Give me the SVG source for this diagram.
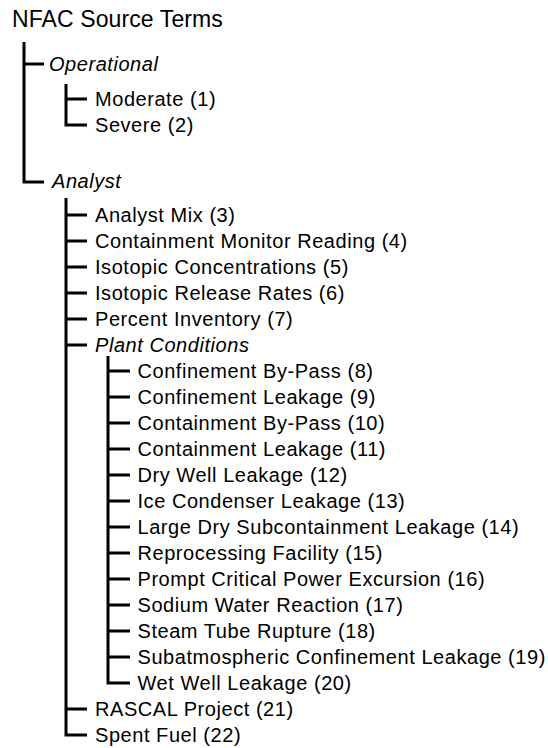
<svg xmlns="http://www.w3.org/2000/svg" width="548" height="748" viewBox="0 0 548 748">
<style>
text{font-family:"Liberation Sans",Arial,Helvetica,sans-serif;font-size:20px;letter-spacing:0.55px;fill:#000}
.root{font-size:23px;letter-spacing:0.1px}
.it{font-style:italic}
.c{fill:none;stroke:#000;stroke-width:3;stroke-linejoin:miter;stroke-linecap:butt}
</style>
<rect width="548" height="748" fill="#fff"/>
<g id="connectors" class="c">
<path d="M24 42V182H44M24 64H44"/>
<path d="M66 84V125H87M66 99H87"/>
<path d="M66 198V735H87M66 215H87M66 241H87M66 267H87M66 293H87M66 319H87M66 345H87M66 709H87"/>
<path d="M108 356V683H130M108 371H130M108 397H130M108 423H130M108 449H130M108 475H130M108 501H130M108 527H130M108 553H130M108 579H130M108 605H130M108 631H130M108 657H130"/>
</g>
<g id="n0"><text class="root" x="12" y="27">NFAC Source Terms</text></g>
<g id="op"><text class="it" x="49" y="71">Operational</text></g>
<g id="n1"><text x="95" y="106">Moderate (1)</text></g>
<g id="n2"><text x="95" y="132">Severe (2)</text></g>
<g id="an"><text class="it" x="52" y="188">Analyst</text></g>
<g id="n3"><text x="95" y="221.5">Analyst Mix (3)</text></g>
<g id="n4"><text x="95" y="247.5">Containment Monitor Reading (4)</text></g>
<g id="n5"><text x="95" y="273.5">Isotopic Concentrations (5)</text></g>
<g id="n6"><text x="95" y="299.5">Isotopic Release Rates (6)</text></g>
<g id="n7"><text x="95" y="325.5">Percent Inventory (7)</text></g>
<g id="pc"><text class="it" x="95" y="351.5">Plant Conditions</text></g>
<g id="n8"><text x="137.5" y="377.5">Confinement By-Pass (8)</text></g>
<g id="n9"><text x="137.5" y="403.5">Confinement Leakage (9)</text></g>
<g id="n10"><text x="137.5" y="429.5">Containment By-Pass (10)</text></g>
<g id="n11"><text x="137.5" y="455.5">Containment Leakage (11)</text></g>
<g id="n12"><text x="137.5" y="481.5">Dry Well Leakage (12)</text></g>
<g id="n13"><text x="137.5" y="507.5">Ice Condenser Leakage (13)</text></g>
<g id="n14"><text x="137.5" y="533.5">Large Dry Subcontainment Leakage (14)</text></g>
<g id="n15"><text x="137.5" y="559.5">Reprocessing Facility (15)</text></g>
<g id="n16"><text x="137.5" y="585.5">Prompt Critical Power Excursion (16)</text></g>
<g id="n17"><text x="137.5" y="611.5">Sodium Water Reaction (17)</text></g>
<g id="n18"><text x="137.5" y="637.5">Steam Tube Rupture (18)</text></g>
<g id="n19"><text x="137.5" y="663.5">Subatmospheric Confinement Leakage (19)</text></g>
<g id="n20"><text x="137.5" y="689.5">Wet Well Leakage (20)</text></g>
<g id="n21"><text x="95" y="715.5">RASCAL Project (21)</text></g>
<g id="n22"><text x="95" y="741.5">Spent Fuel (22)</text></g>
</svg>
